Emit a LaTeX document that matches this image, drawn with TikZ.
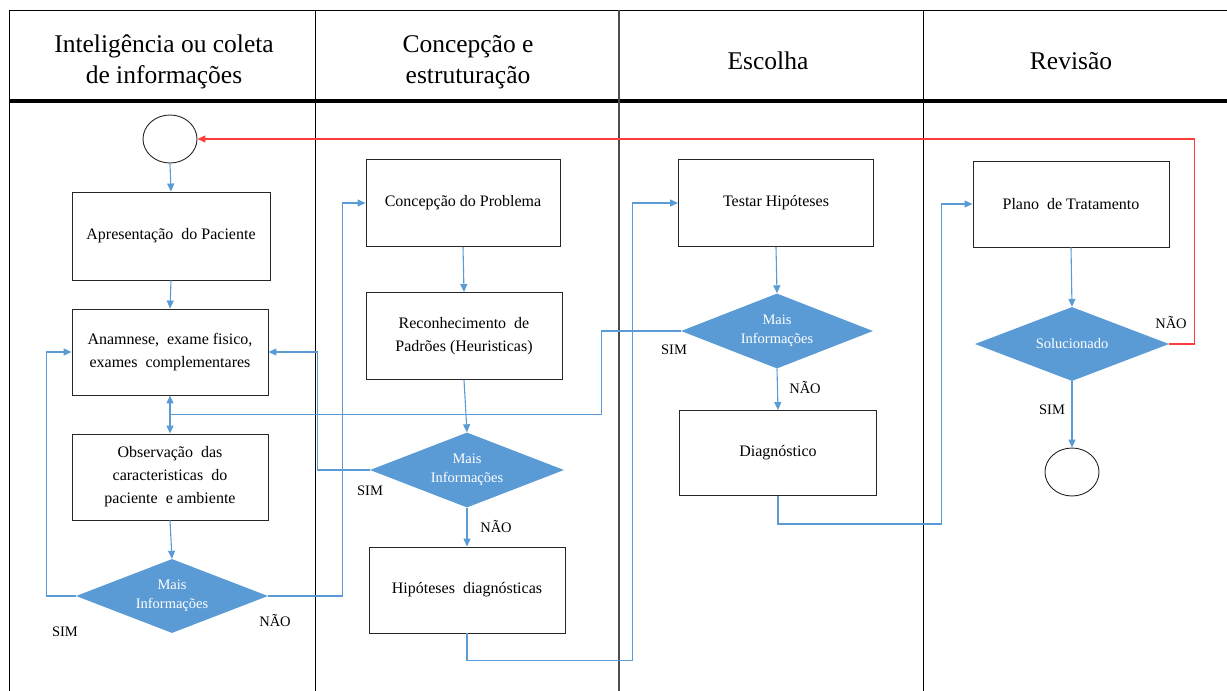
\documentclass[tikz,border=0pt]{standalone}
\usepackage{fontspec}
\setmainfont{Liberation Serif}
\usetikzlibrary{shapes.geometric,arrows.meta,calc}
\definecolor{lnblue}{HTML}{5B9BD5}
\definecolor{dfill}{HTML}{5B9BD5}
\definecolor{lnred}{HTML}{FF3B3B}
\definecolor{bord}{HTML}{262626}
\tikzset{
  hdr/.style={align=center,font=\fontsize{25.5}{31}\selectfont},
  pbox/.style={draw=bord,line width=0.9pt,fill=white,minimum width=196pt,minimum height=86pt,align=center,inner sep=2pt,font=\fontsize{16}{23}\selectfont},
  dec/.style={diamond,fill=dfill,draw=none,aspect=2.6,minimum width=194pt,minimum height=75pt,inner sep=0pt,align=center,text=white,font=\fontsize{14.5}{19}\selectfont},
  term/.style={ellipse,draw=bord,line width=0.9pt,fill=white,minimum width=54pt,minimum height=48pt},
  lbl/.style={font=\fontsize{14.5}{16}\selectfont,inner sep=0pt},
  conn/.style={draw=lnblue,line width=1.1pt},
  arr/.style={conn,-{Triangle[width=7pt,length=8pt]}},
  arrred/.style={draw=lnred,line width=1.1pt,-{Triangle[width=7pt,length=8pt]}},
  tline/.style={draw=black,line width=1pt}
}
\begin{document}
\begin{tikzpicture}[x=1pt,y=-1pt]
\useasboundingbox (0,0) rectangle (1227,691);
% table
\draw[tline] (9,10) -- (1227,10);
\draw[draw=black,line width=3.5pt] (9,101) -- (1227,101);
\draw[tline] (9,10) -- (9,691);
\draw[tline] (315,10) -- (315,691);
\draw[draw=black!70,line width=1.8pt] (619,10) -- (619,691);
\draw[tline] (923,10) -- (923,691);
% headers
\node[hdr] (h1) at (164,62) {Inteligência ou coleta\\de informações};
\node[hdr] (h2) at (468,62) {Concepção e\\estruturação};
\node[hdr] (h3) at (768,61) {Escolha};
\node[hdr] (h4) at (1071,61) {Revisão};
% column 1
\node[term] (start) at (170,139) {};
\node[pbox,minimum width=198pt,minimum height=88pt] (b1) at (171,236) {Apresentação\ \ do Paciente};
\node[pbox] (b2) at (170,352) {Anamnese,\ \ exame fisico,\\exames\ \ complementares};
\node[pbox] (b3) at (170,477) {Observação\ \ das\\caracteristicas\ \ do\\paciente\ \ e ambiente};
\node[dec,minimum width=192pt,minimum height=74pt] (d1) at (172,596) {Mais\\Informações};
% column 2
\node[pbox,minimum width=194pt,minimum height=87pt] (c1) at (463,203) {Concepção do Problema};
\node[pbox,minimum height=87pt] (c2) at (464,336) {Reconhecimento\ \ de\\Padrões\ (Heuristicas)};
\node[dec] (d2) at (467,470) {Mais\\Informações};
\node[pbox] (c3) at (467,590) {Hipóteses\ \ diagnósticas};
% column 3
\node[pbox,minimum width=195pt,minimum height=87pt] (e1) at (776,203) {Testar Hipóteses};
\node[dec,minimum width=192pt] (d3) at (777,331) {Mais\\Informações};
\node[pbox,minimum width=197pt,minimum height=85pt] (e2) at (778,453) {Diagnóstico};
% column 4
\node[pbox] (f1) at (1071,204) {Plano\ \ de Tratamento};
\node[dec,minimum height=74pt] (d4) at (1072,344) {Solucionado};
\node[term] (end) at (1072,472) {};
% labels
\node[lbl] (s1) at (65,632) {SIM};
\node[lbl] (n1) at (275,620) {NÃO};
\node[lbl] (s2) at (370,491) {SIM};
\node[lbl] (n2) at (496,526) {NÃO};
\node[lbl] (s3) at (674,350) {SIM};
\node[lbl] (n3) at (805,387) {NÃO};
\node[lbl] (n4) at (1171,322) {NÃO};
\node[lbl] (s4) at (1052,410) {SIM};
% connectors column 1
\draw[arr] (start.south) -- (b1.north);
\draw[arr] (b1.south) -- (b2.north);
\draw[arr] (b3.south) -- (d1.north);
\draw[arr] (d1.west) -- ++(-29,0) |- (b2.west);
\draw[arr] (d1.east) -- ++(74,0) |- (c1.west);
\coordinate (j) at ($(b2.south)!0.5!(b3.north)$);
\draw[arr] (j) -- (b2.south);
\draw[arr] (j) -- (b3.north);
% column 2
\draw[arr] (c1.south) -- (c2.north);
\draw[arr] (c2.south) -- (d2.north);
\draw[arr] (d2.south) -- (c3.north);
\draw[arr] (d2.west) -- ++(-52,0) |- (b2.east);
\draw[arr] (c3.south) -- ++(0,27) -| ([xshift=-46pt]e1.west) -- (e1.west);
% column 3
\draw[arr] (e1.south) -- (d3.north);
\draw[arr] (d3.south) -- (e2.north);
\draw[conn] (d3.west) -- ++(-79,0) |- (j);
\draw[arr] (e2.south) -- ++(0,28) -| ([xshift=-31pt]f1.west) -- (f1.west);
% column 4
\draw[arr] (f1.south) -- (d4.north);
\draw[arr] (d4.south) -- (end.north);
\draw[arrred] (d4.east) -- ++(25,0) |- (start.east);
\end{tikzpicture}
\end{document}
